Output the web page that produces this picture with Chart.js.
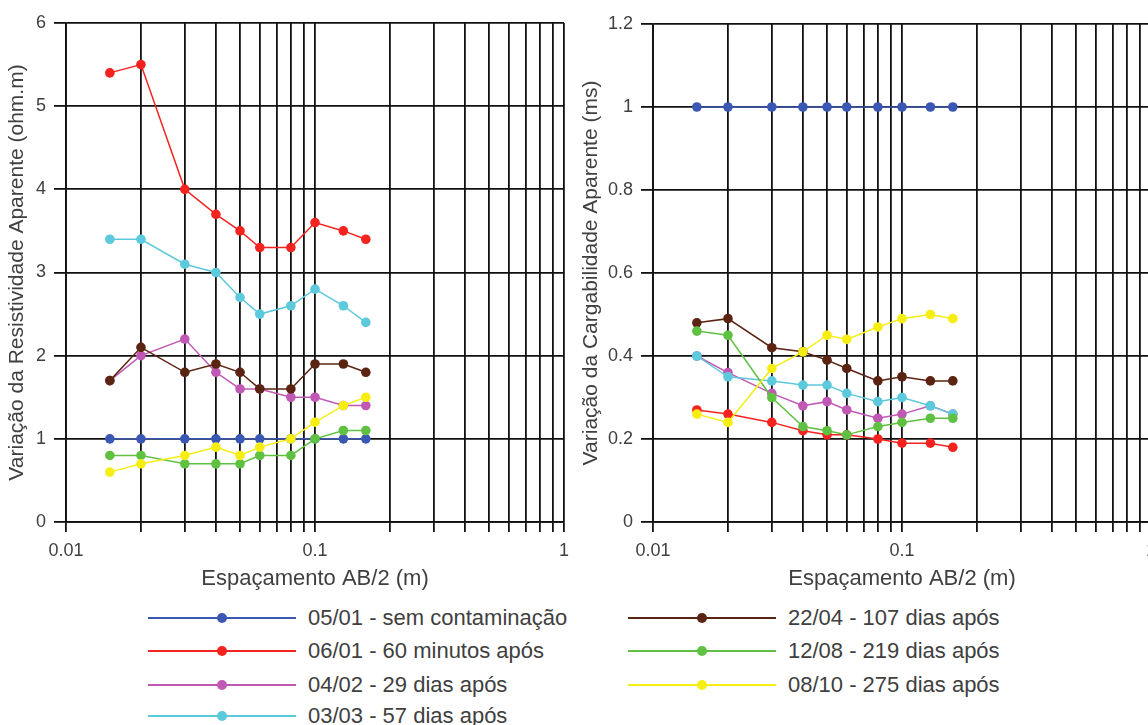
<!DOCTYPE html>
<html>
<head>
<meta charset="utf-8">
<script src="https://cdn.jsdelivr.net/npm/chart.js@4"></script>
<style>
  html, body { margin: 0; padding: 0; background: #fff; width: 1148px; height: 725px; overflow: hidden; }
  canvas { position: absolute; top: 0; }
  #left { left: 0; }
  #right { left: 578px; }
  .leg { position: absolute; font: 22px "Liberation Sans", Arial, sans-serif; color: #404040; white-space: nowrap; }
  .leg .ln { position: absolute; left: 0; top: 9px; width: 148px; height: 2px; }
  .leg .dot { position: absolute; left: 69px; top: 5px; width: 10px; height: 10px; border-radius: 50%; }
  .leg .tx { position: absolute; left: 160px; top: -3px; }
</style>
</head>
<body>
<canvas id="left" width="578" height="600"></canvas>
<canvas id="right" width="600" height="600"></canvas>
<div id="legend"></div>
<script>
// AB/2 spacing (m)
const spacing = [0.015, 0.02, 0.03, 0.04, 0.05, 0.06, 0.08, 0.1, 0.13, 0.16];

const seriesNames = [
  '05/01 - sem contaminação',
  '06/01 - 60 minutos após',
  '04/02 - 29 dias após',
  '03/03 - 57 dias após',
  '22/04 - 107 dias após',
  '12/08 - 219 dias após',
  '08/10 - 275 dias após'
];
const seriesColors = ['#3b57b4', '#f5231f', '#c158b5', '#5cc9dc', '#5b2312', '#5fc142', '#f6ee12'];

// resistividade aparente (ohm.m)
const res0501 = [1, 1, 1, 1, 1, 1, 1, 1, 1, 1];
const res0601 = [5.4, 5.5, 4.0, 3.7, 3.5, 3.3, 3.3, 3.6, 3.5, 3.4];
const res0402 = [1.7, 2.0, 2.2, 1.8, 1.6, 1.6, 1.5, 1.5, 1.4, 1.4];
const res0303 = [3.4, 3.4, 3.1, 3.0, 2.7, 2.5, 2.6, 2.8, 2.6, 2.4];
const res2204 = [1.7, 2.1, 1.8, 1.9, 1.8, 1.6, 1.6, 1.9, 1.9, 1.8];
const res1208 = [0.8, 0.8, 0.7, 0.7, 0.7, 0.8, 0.8, 1.0, 1.1, 1.1];
const res0810 = [0.6, 0.7, 0.8, 0.9, 0.8, 0.9, 1.0, 1.2, 1.4, 1.5];

// cargabilidade aparente (ms)
const carg0501 = [1, 1, 1, 1, 1, 1, 1, 1, 1, 1];
const carg0601 = [0.27, 0.26, 0.24, 0.22, 0.21, 0.21, 0.20, 0.19, 0.19, 0.18];
const carg0402 = [0.40, 0.36, 0.31, 0.28, 0.29, 0.27, 0.25, 0.26, 0.28, 0.26];
const carg0303 = [0.40, 0.35, 0.34, 0.33, 0.33, 0.31, 0.29, 0.30, 0.28, 0.26];
const carg2204 = [0.48, 0.49, 0.42, 0.41, 0.39, 0.37, 0.34, 0.35, 0.34, 0.34];
const carg1208 = [0.46, 0.45, 0.30, 0.23, 0.22, 0.21, 0.23, 0.24, 0.25, 0.25];
const carg0810 = [0.26, 0.24, 0.37, 0.41, 0.45, 0.44, 0.47, 0.49, 0.50, 0.49];

const xTickValues = [0.01, 0.1, 1];
const xTickLabels = ['0.01', '0.1', '1'];

const FONT = '"Liberation Sans", Arial, sans-serif';
const TXT = '#404040';

function makeDatasets(seriesList) {
  return seriesList.map((vals, i) => ({
    label: seriesNames[i],
    data: spacing.map((x, j) => ({ x: x, y: vals[j] })),
    borderColor: seriesColors[i],
    backgroundColor: seriesColors[i],
    borderWidth: 1.5,
    pointRadius: 4.8,
    pointBorderWidth: 0,
    tension: 0,
    order: seriesList.length - i
  }));
}

// grid lines at 1..9 x 10^n
function logGrid(scale) {
  const ticks = [];
  for (let e = -2; e < 0; e++) {
    for (let k = 1; k < 10; k++) ticks.push({ value: k * Math.pow(10, e) });
  }
  ticks.push({ value: 1 });
  scale.ticks = ticks;
}

function buildChart(id, seriesList, yMax, yStep, yTitle, yWidth, yTitlePad, yTitleSize, pad) {
  const ctx = document.getElementById(id).getContext('2d');
  return new Chart(ctx, {
    type: 'line',
    data: { datasets: makeDatasets(seriesList) },
    options: {
      responsive: false,
      animation: false,
      devicePixelRatio: 1,
      layout: { padding: pad },
      plugins: { legend: { display: false }, tooltip: { enabled: false } },
      scales: {
        x: {
          type: 'logarithmic',
          min: 0.01, max: 1,
          afterBuildTicks: logGrid,
          afterFit: s => { s.height = 78; },
          grid: { color: '#111', lineWidth: 1.8, tickLength: 10 },
          border: { color: '#111', width: 1.8 },
          ticks: {
            autoSkip: false, maxRotation: 0, padding: 8,
            color: TXT, font: { family: FONT, size: 18 },
            callback: v => {
              const i = xTickValues.findIndex(t => Math.abs(t - v) < 1e-9);
              return i >= 0 ? xTickLabels[i] : '';
            }
          },
          title: { display: true, text: 'Espaçamento AB/2 (m)', color: TXT, font: { family: FONT, size: 22 }, padding: { top: 0, bottom: 8 } }
        },
        y: {
          min: 0, max: yMax,
          afterFit: s => { s.width = yWidth; },
          grid: { color: '#111', lineWidth: 1.8, tickLength: 12 },
          border: { color: '#111', width: 1.8 },
          ticks: {
            stepSize: yStep, padding: 8, color: TXT, font: { family: FONT, size: 18 },
            callback: v => String(Number(v.toFixed(2)))
          },
          title: { display: true, text: yTitle, color: TXT, font: { family: FONT, size: yTitleSize }, padding: { top: yTitlePad, bottom: 0 } }
        }
      }
    }
  });
}

buildChart('left', [res0501, res0601, res0402, res0303, res2204, res1208, res0810],
  6, 1, 'Variação da Resistividade Aparente (ohm.m)', 66, 5, 21, { top: 23, right: 14, bottom: 0, left: 0 });
buildChart('right', [carg0501, carg0601, carg0402, carg0303, carg2204, carg1208, carg0810],
  1.2, 0.2, 'Variação da Cargabilidade Aparente (ms)', 75, 1, 21, { top: 24, right: 27, bottom: 0, left: 0 });

// legend, two columns
const legend = document.getElementById('legend');
const legRows = [618, 651, 685, 716];
seriesNames.forEach((name, i) => {
  const col = i < 4 ? 0 : 1;
  const row = i < 4 ? i : i - 4;
  const d = document.createElement('div');
  d.className = 'leg';
  d.style.left = (col ? 628 : 148) + 'px';
  d.style.top = (legRows[row] - 10) + 'px';
  d.innerHTML = `<div class="ln" style="background:${seriesColors[i]}"></div>` +
    `<div class="dot" style="background:${seriesColors[i]}"></div><div class="tx">${name}</div>`;
  legend.appendChild(d);
});
</script>
</body>
</html>
